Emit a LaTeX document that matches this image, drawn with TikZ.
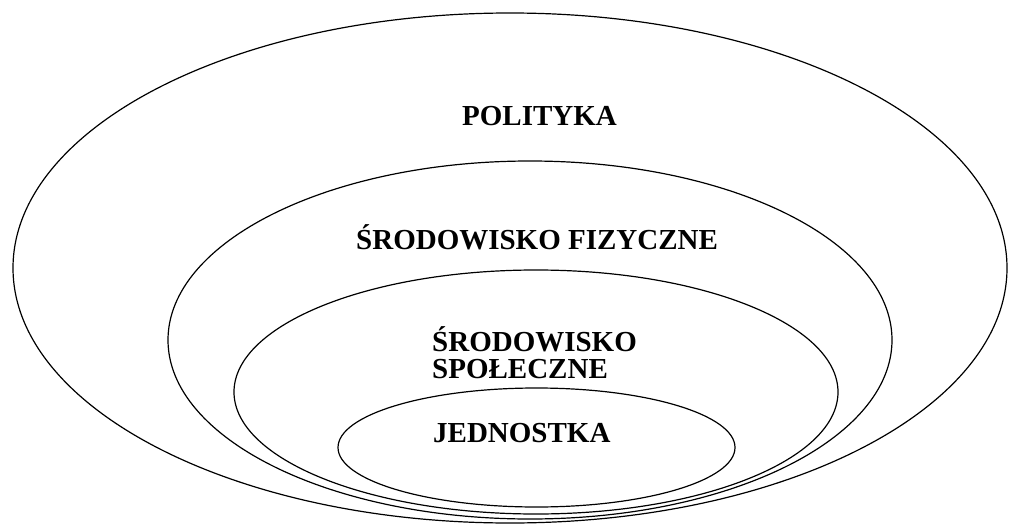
\documentclass[tikz,border=0pt]{standalone}
\usepackage{fontspec}
\setmainfont{Liberation Serif}
\begin{document}
\begin{tikzpicture}[x=1pt,y=-1pt,
  ring/.style={draw=black,line width=1.2pt},
  lbl/.style={font=\bfseries\fontsize{29}{25.7}\selectfont,inner sep=0pt,anchor=base west,align=left}]
\useasboundingbox (0,0) rectangle (1010,525);
\draw[ring] (510,268) ellipse [x radius=497pt, y radius=255pt];
\draw[ring] (530,340) ellipse [x radius=362pt, y radius=179pt];
\draw[ring] (536,392) ellipse [x radius=302pt, y radius=122pt];
\draw[ring] (536.5,447.5) ellipse [x radius=198.5pt, y radius=59.5pt];
\node[lbl] (pol) at (462,125) {POLITYKA};
\node[lbl] (fiz) at (356,249) {ŚRODOWISKO FIZYCZNE};
\node[lbl] (spo1) at (432,351) {ŚRODOWISKO};
\node[lbl] (spo2) at (432,378.5) {SPOŁECZNE};
\node[lbl] (jed) at (433,442) {JEDNOSTKA};
\end{tikzpicture}
\end{document}
